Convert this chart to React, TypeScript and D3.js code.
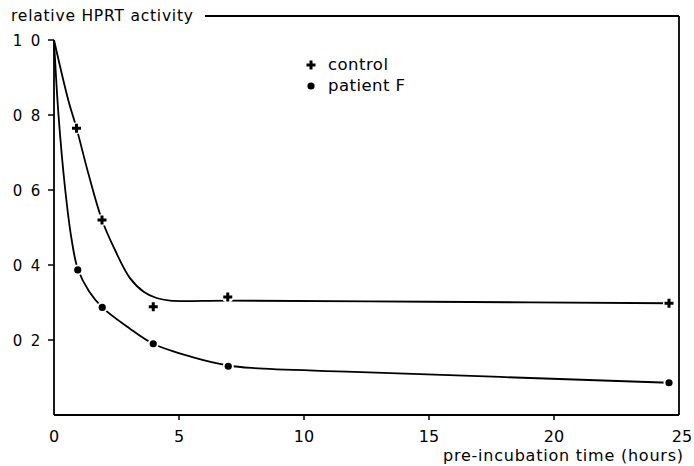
import React from "react";
import * as d3 from "d3";

// measured points
const controlX = [0.9, 1.92, 3.97, 6.95, 24.6];
const controlY = [0.765, 0.52, 0.289, 0.315, 0.298];
const patientX = [0.95, 1.93, 3.97, 6.97, 24.6];
const patientY = [0.387, 0.287, 0.19, 0.13, 0.086];

// fitted curves
const controlCurveX = [0, 0.57, 0.9, 1.37, 1.92, 2.44, 3.04, 3.6, 4.1, 4.64, 7, 15, 24.6];
const controlCurveY = [1.0, 0.84, 0.765, 0.645, 0.52, 0.44, 0.365, 0.328, 0.312, 0.305, 0.305, 0.302, 0.298];
const patientCurveX = [0, 0.18, 0.45, 0.7, 0.95, 1.4, 1.93, 3, 3.97, 5.5, 6.97, 8, 12, 24.6];
const patientCurveY = [1.0, 0.8, 0.6, 0.47, 0.39, 0.33, 0.287, 0.232, 0.19, 0.155, 0.132, 0.125, 0.115, 0.086];

const xTicks = [0, 5, 10, 15, 20, 25];
const yTicks = [0.2, 0.4, 0.6, 0.8, 1.0];
const yTickLabels = ["0 2", "0 4", "0 6", "0 8", "1 0"];

const legendLabels = ["control", "patient F"];
const yTitle = "relative HPRT activity";
const xTitle = "pre-incubation time (hours)";

export default function App() {
  const W = 694, H = 466;
  const x = d3.scaleLinear().domain([0, 25]).range([54, 679]);
  const y = d3.scaleLinear().domain([0, 1]).range([415, 40]);
  const line = d3
    .line<[number, number]>()
    .x((d) => x(d[0]))
    .y((d) => y(d[1]))
    .curve(d3.curveCatmullRom.alpha(0.5));
  const cCurve = controlCurveX.map((v, i) => [v, controlCurveY[i]] as [number, number]);
  const pCurve = patientCurveX.map((v, i) => [v, patientCurveY[i]] as [number, number]);
  const font = "'DejaVu Sans', sans-serif";
  const plus = (cx: number, cy: number, key: string) => (
    <g key={key}>
      <circle cx={cx} cy={cy} r={6} fill="#fff" />
      <path d={`M${cx - 4.5},${cy}H${cx + 4.5}M${cx},${cy - 4.5}V${cy + 4.5}`} stroke="#000" strokeWidth={3} />
    </g>
  );
  const dot = (cx: number, cy: number, key: string) => (
    <g key={key}>
      <circle cx={cx} cy={cy} r={5.5} fill="#fff" />
      <circle cx={cx} cy={cy} r={3.6} fill="#000" />
    </g>
  );
  return (
    <svg width={W} height={H} style={{ position: "absolute", left: 0, top: 0, background: "#fff" }} fontFamily={font}>
      <rect width={W} height={H} fill="#fff" />
      {/* frame */}
      <g stroke="#000" strokeWidth={1.8} fill="none">
        <line x1={54} x2={54} y1={y(1)} y2={415} />
        <line x1={54} x2={679} y1={415} y2={415} />
        <line x1={679} x2={679} y1={16} y2={415} />
        <line x1={205} x2={679} y1={16} y2={16} />
      </g>
      {/* y ticks */}
      {yTicks.map((t, i) => (
        <g key={"y" + i}>
          <line x1={48} x2={54} y1={y(t)} y2={y(t)} stroke="#000" strokeWidth={1.5} />
          <text x={42} y={y(t) + 5.5} textAnchor="end" fontSize={15} letterSpacing={1.8}>
            {yTickLabels[i]}
          </text>
        </g>
      ))}
      {/* x ticks */}
      {xTicks.map((t, i) => (
        <g key={"x" + i}>
          {t > 0 && t < 25 && <line x1={x(t)} x2={x(t)} y1={415} y2={420} stroke="#000" strokeWidth={1.5} />}
          <text x={x(t) + (t === 25 ? 3 : 0)} y={442} textAnchor="middle" fontSize={16}>
            {t}
          </text>
        </g>
      ))}
      <text x={11} y={21} fontSize={15.5} textLength={182} lengthAdjust="spacing">{yTitle}</text>
      <text x={443} y={461} fontSize={16} textLength={240} lengthAdjust="spacing">{xTitle}</text>
      {/* curves */}
      <path d={line(cCurve) || ""} fill="none" stroke="#000" strokeWidth={1.8} />
      <path d={line(pCurve) || ""} fill="none" stroke="#000" strokeWidth={1.8} />
      {controlX.map((v, i) => plus(x(v), y(controlY[i]), "c" + i))}
      {patientX.map((v, i) => dot(x(v), y(patientY[i]), "p" + i))}
      {/* legend */}
      {plus(311, 65, "lc")}
      <text x={328} y={70} fontSize={16.5} textLength={60} lengthAdjust="spacing">{legendLabels[0]}</text>
      {dot(311, 86, "lp")}
      <text x={328} y={91} fontSize={16.5} textLength={77} lengthAdjust="spacing">{legendLabels[1]}</text>
    </svg>
  );
}
